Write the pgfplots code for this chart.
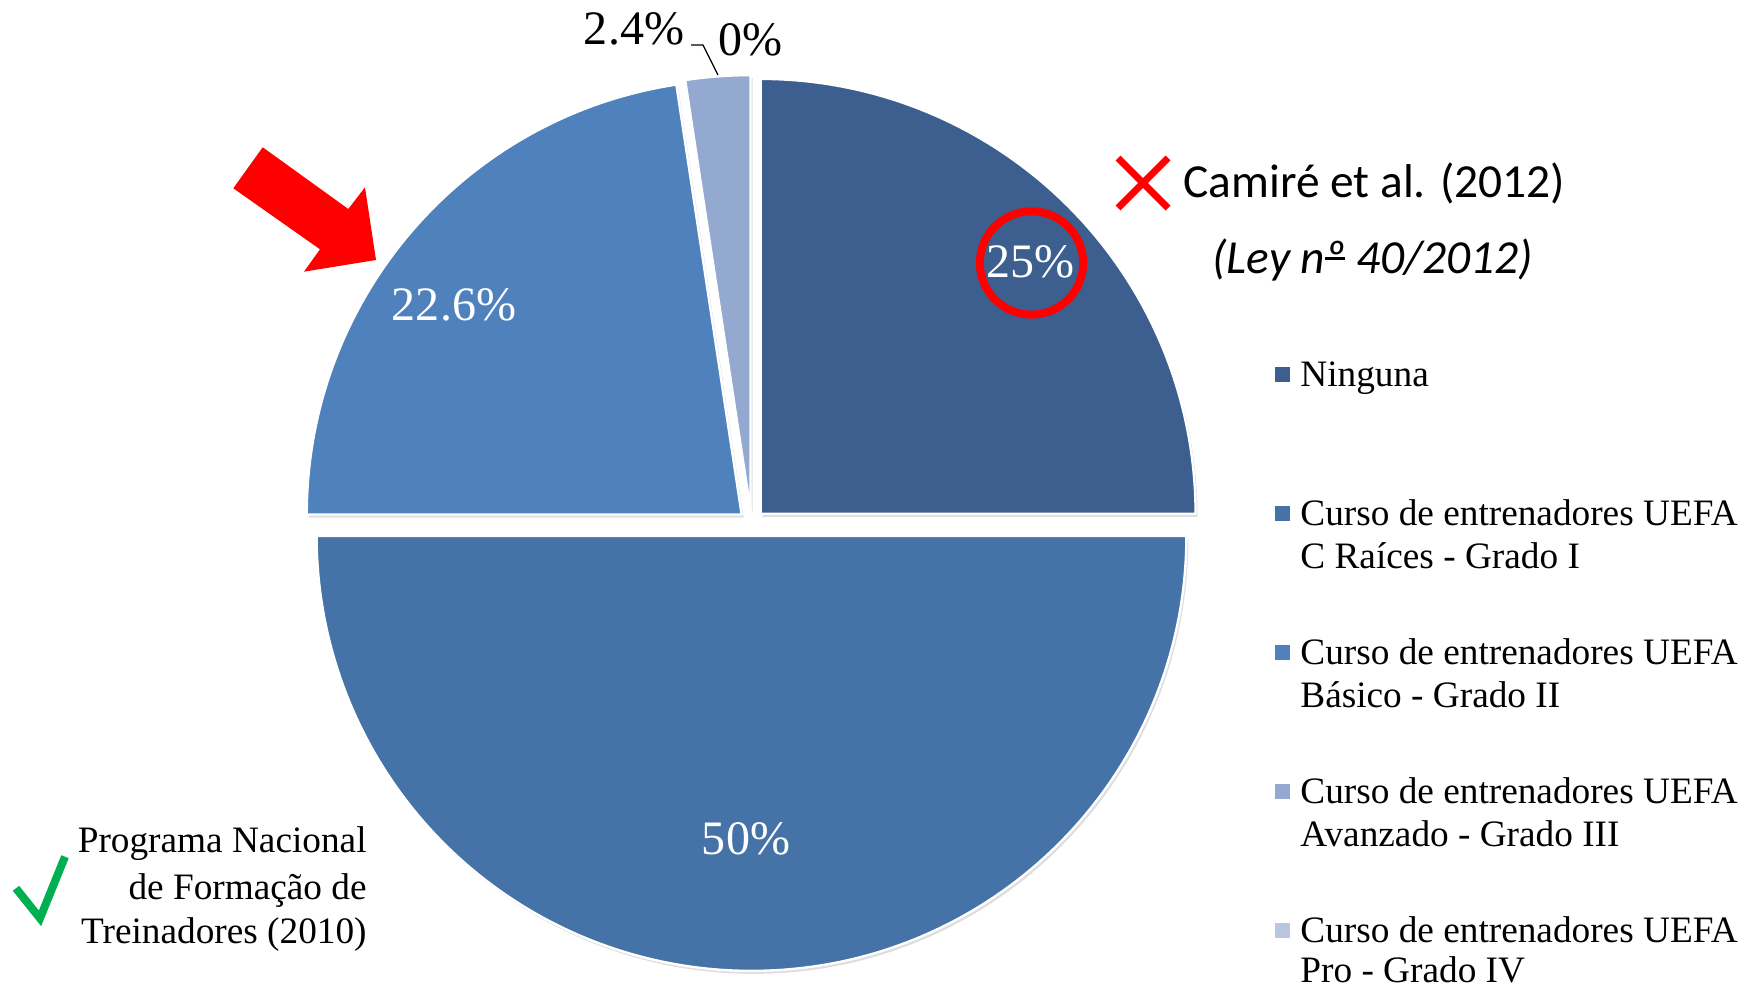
\documentclass[border=0pt]{standalone}
\usepackage{pgfplots}
\pgfplotsset{compat=1.18}
\usepackage{fontspec}
\setmainfont{Liberation Serif}
\newfontfamily\calib{Carlito}
\definecolor{cA}{HTML}{3C5F8F}
\definecolor{cB}{HTML}{4573A8}
\definecolor{cC}{HTML}{4F81BD}
\definecolor{cD}{HTML}{93A9CF}
\definecolor{cE}{HTML}{B9C6E0}
\definecolor{okgreen}{HTML}{00B050}
% data (percent)
\def\vA{25}\def\vB{50}\def\vC{22.6}\def\vD{2.4}\def\vE{0}
\def\rr{7.83cm}
\newcommand\slice[4]{% color, cumulative, value, shadow?
  \pgfmathsetmacro\aS{90-3.6*(#2)}%
  \pgfmathsetmacro\aE{90-3.6*((#2)+(#3))}%
  \pgfmathsetmacro\aM{(\aS+\aE)/2}%
  \pgfmathsetmacro\cx{751.5+13*cos(\aM)+#4*2}%
  \pgfmathsetmacro\cy{466+13*sin(\aM)-#4*3}%
  \ifnum#4=1
    \edef\doslice{\noexpand\fill[black!13] (axis cs:\cx,\cy) -- ++(\aS:\rr) arc[start angle=\aS,end angle=\aE,radius=\rr] -- cycle;}%
  \else
    \edef\doslice{\noexpand\filldraw[fill=#1,draw=white,line width=1.2pt,line join=round] (axis cs:\cx,\cy) -- ++(\aS:\rr) arc[start angle=\aS,end angle=\aE,radius=\rr] -- cycle;}%
  \fi
  \doslice}
\newcommand\lbl{\fontsize{24.6pt}{29pt}\selectfont}
\newcommand\leg{\fontsize{19.1pt}{22pt}\selectfont}
\newcommand\ordo{{\setbox0\hbox{º}\rlap{\copy0}\rlap{\raisebox{0.3em}{\rule{\wd0}{0.05em}}}\hbox to\wd0{}}}
\begin{document}
\begin{tikzpicture}
\begin{axis}[x=0.018cm,y=0.018cm,xmin=0,xmax=1756,ymin=0,ymax=989,hide axis,clip=false]
% shadows
\slice{cA}{0}{\vA}{1}
\slice{cB}{\vA}{\vB}{1}
\slice{cC}{\vA+\vB}{\vC}{1}
\slice{cD}{\vA+\vB+\vC}{\vD}{1}
% slices
\slice{cA}{0}{\vA}{0}
\slice{cB}{\vA}{\vB}{0}
\slice{cC}{\vA+\vB}{\vC}{0}
\slice{cD}{\vA+\vB+\vC}{\vD}{0}
% data labels
\node[anchor=base,text=white,font=\lbl] at (axis cs:1030,711) {25\%};
\node[anchor=base,text=white,font=\lbl] at (axis cs:454,668) {22.6\%};
\node[anchor=base,text=white,font=\lbl] at (axis cs:746,134) {50\%};
\node[anchor=base,font=\lbl] at (axis cs:634,944) {2.4\%};
\node[anchor=base,font=\lbl] at (axis cs:750,933) {0\%};
\draw[black,line width=0.6pt] (axis cs:691,944) -- (axis cs:703,944) -- (axis cs:718,914);
% red circle
\draw[red,line width=4.1pt] (axis cs:1031.5,726) circle[radius=0.93cm];
% red X
\draw[red,line width=3.6pt] (axis cs:1118,831) -- (axis cs:1168,781) (axis cs:1118,781) -- (axis cs:1168,831);
\node[anchor=base west,font={\calib\fontsize{24.3pt}{29pt}\selectfont},inner sep=0pt] at (axis cs:1183,791) {Camiré et al. (2012)};
\node[anchor=base west,font={\calib\itshape\fontsize{24.3pt}{29pt}\selectfont},inner sep=0pt] at (axis cs:1212,715) {(Ley n\ordo{} 40/2012)};
% red arrow
\fill[red] (axis cs:262.7,841.7) -- (axis cs:348.3,780) -- (axis cs:365,801.7) -- (axis cs:376,729) -- (axis cs:304,717.3) -- (axis cs:320,739.7) -- (axis cs:233.3,800.7) -- cycle;
% green check
\draw[okgreen,line width=4.1pt,line join=miter] (axis cs:16,100.7) -- (axis cs:40,70.7) -- (axis cs:65,132.3);
\node[anchor=base east,font=\leg,inner sep=0pt] at (axis cs:367,136) {Programa Nacional};
\node[anchor=base east,font=\leg,inner sep=0pt] at (axis cs:367,89) {de Formação de};
\node[anchor=base east,font=\leg,inner sep=0pt] at (axis cs:367,45) {Treinadores (2010)};
% legend
\fill[cA] (axis cs:1275,607) rectangle (axis cs:1290,622);
\node[anchor=base west,font=\leg,inner sep=0pt] at (axis cs:1300,602) {Ninguna};
\fill[cB] (axis cs:1275,468) rectangle (axis cs:1290,483);
\node[anchor=base west,font=\leg,inner sep=0pt] at (axis cs:1300,463) {Curso de entrenadores UEFA};
\node[anchor=base west,font=\leg,inner sep=0pt] at (axis cs:1300,420) {C Raíces - Grado I};
\fill[cC] (axis cs:1275,329) rectangle (axis cs:1290,344);
\node[anchor=base west,font=\leg,inner sep=0pt] at (axis cs:1300,324) {Curso de entrenadores UEFA};
\node[anchor=base west,font=\leg,inner sep=0pt] at (axis cs:1300,281) {Básico - Grado II};
\fill[cD] (axis cs:1275,190) rectangle (axis cs:1290,205);
\node[anchor=base west,font=\leg,inner sep=0pt] at (axis cs:1300,185) {Curso de entrenadores UEFA};
\node[anchor=base west,font=\leg,inner sep=0pt] at (axis cs:1300,142) {Avanzado - Grado III};
\fill[cE] (axis cs:1275,51) rectangle (axis cs:1290,66);
\node[anchor=base west,font=\leg,inner sep=0pt] at (axis cs:1300,46) {Curso de entrenadores UEFA};
\node[anchor=base west,font=\leg,inner sep=0pt] at (axis cs:1300,6) {Pro - Grado IV};
\coordinate (bl) at (axis cs:0,0);
\coordinate (tr) at (axis cs:1756,989);
\end{axis}
\pgfresetboundingbox
\path[use as bounding box] (bl) rectangle (tr);
\end{tikzpicture}
\end{document}
